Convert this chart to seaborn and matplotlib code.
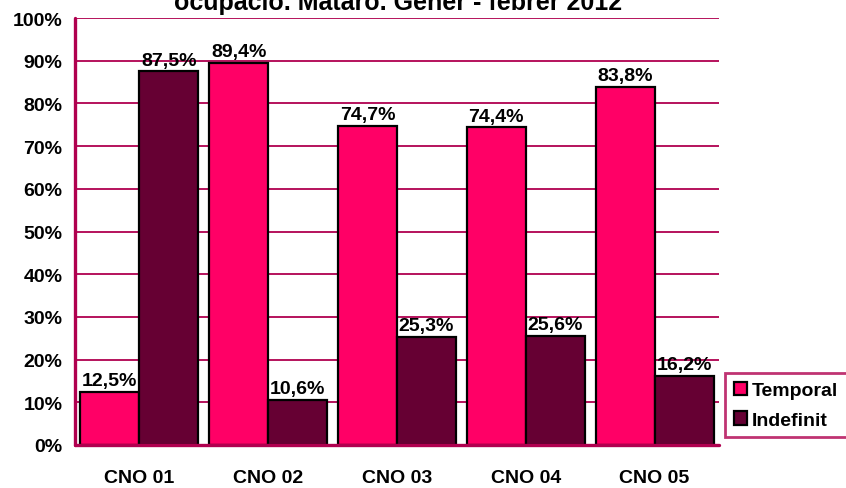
import matplotlib
matplotlib.use("Agg")
import matplotlib.pyplot as plt
import seaborn as sns
import pandas as pd
from matplotlib.patches import Patch
from matplotlib.ticker import FixedLocator, PercentFormatter

categories = ["CNO 01", "CNO 02", "CNO 03", "CNO 04", "CNO 05"]
temporal = [12.5, 89.4, 74.7, 74.4, 83.8]
indefinit = [87.5, 10.6, 25.3, 25.6, 16.2]
series_names = ["Temporal", "Indefinit"]
title_text = "ocupació. Mataró. Gener - febrer 2012"

pink = "#FF0066"
maroon = "#660033"
axis_col = "#B0004F"

df = pd.DataFrame({
    "cat": categories * 2,
    "val": temporal + indefinit,
    "serie": [series_names[0]] * len(categories) + [series_names[1]] * len(categories),
})

sns.set_style("white")
plt.rcParams["font.family"] = ["Liberation Sans", "DejaVu Sans"]
plt.rcParams["font.weight"] = "bold"
plt.rcParams["text.color"] = "black"
plt.rcParams["xtick.color"] = "black"
plt.rcParams["ytick.color"] = "black"

W, H = 846, 489
fig = plt.figure(figsize=(W / 100, H / 100), dpi=100)
ax = fig.add_axes([75 / W, (H - 446) / H, 644 / W, 427 / H])

sns.barplot(data=df, x="cat", y="val", hue="serie", order=categories,
            hue_order=series_names, palette=[pink, maroon],
            edgecolor="black", linewidth=1.6, width=0.915, ax=ax,
            legend=False, saturation=1)

ax.set_xlim(-0.5, len(categories) - 0.5)
ax.set_ylim(0, 100)
ax.set_xlabel("")
ax.set_ylabel("")

# horizontal gridlines every 10 %
ax.yaxis.set_major_locator(FixedLocator(range(0, 101, 10)))
ax.yaxis.set_major_formatter(PercentFormatter(decimals=0))
ax.grid(axis="y", color=axis_col, linewidth=1.3)
ax.set_axisbelow(True)

for side in ["top", "right"]:
    ax.spines[side].set_visible(False)
for side in ["left", "bottom"]:
    ax.spines[side].set_color(axis_col)
    ax.spines[side].set_linewidth(2.4)
    ax.spines[side].set_capstyle("round")

ax.tick_params(axis="y", which="major", length=6, width=2.4, color=axis_col,
               labelcolor="black", labelsize=14, pad=3)
ax.tick_params(axis="x", which="major", length=0, labelcolor="black",
               labelsize=14, pad=17)
ax.xaxis.set_minor_locator(FixedLocator([i - 0.5 for i in range(len(categories) + 1)]))
ax.tick_params(axis="x", which="minor", length=6, width=2.4, color=axis_col)
for lbl in ax.get_xticklabels() + ax.get_yticklabels():
    lbl.set_fontweight("bold")

# value labels above each bar
for container in ax.containers:
    ax.bar_label(container,
                 labels=[f"{v:.1f}%".replace(".", ",") for v in container.datavalues],
                 padding=2, fontsize=14, fontweight="bold", color="black")

fig.text(398 / W, 1 - 10 / H, title_text, ha="center", va="baseline",
         fontsize=18, fontweight="bold", color="black")

handles = [Patch(facecolor=pink, edgecolor="black", linewidth=1.6),
           Patch(facecolor=maroon, edgecolor="black", linewidth=1.6)]
# legend box runs past the right edge of the figure
leg = fig.legend(handles, series_names, loc="upper left", mode="expand",
                 bbox_to_anchor=(725 / W, 1 - 374 / H, 140 / W, 0.0),
                 frameon=True, fancybox=False, handlelength=0.7, handleheight=0.7,
                 handletextpad=0.25, labelspacing=0.6, borderpad=0.45,
                 borderaxespad=0, prop={"weight": "bold", "size": 14})
leg.get_frame().set_edgecolor(axis_col)
leg.get_frame().set_linewidth(2)

fig.savefig("out.png", dpi=100)
